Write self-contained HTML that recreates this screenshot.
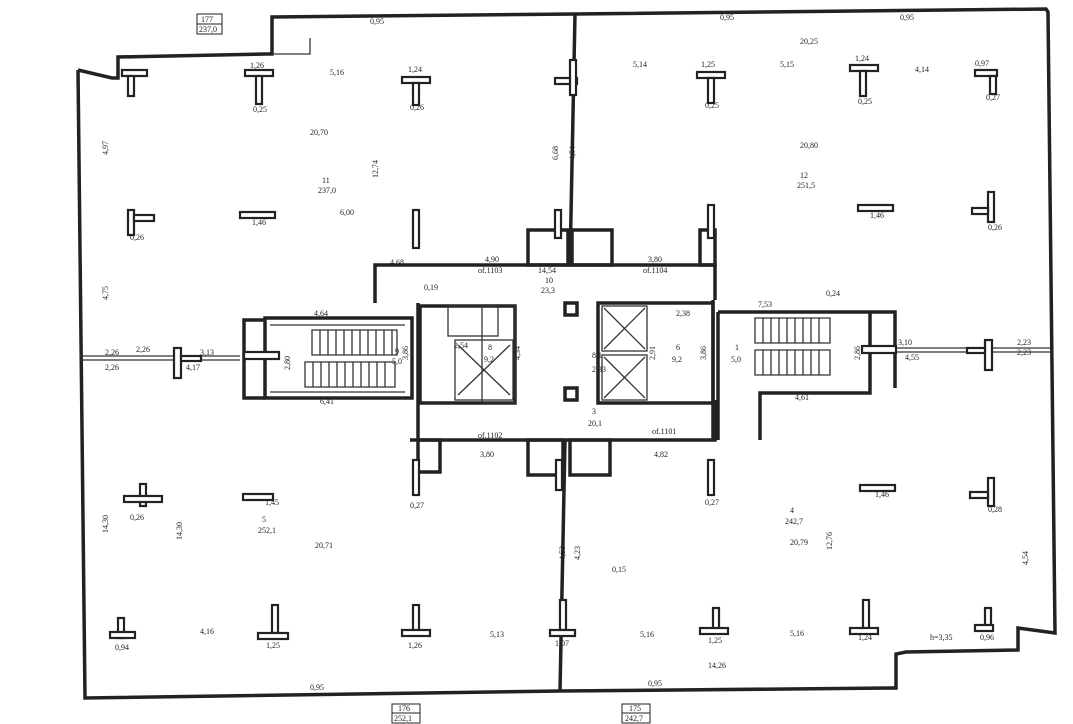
<!DOCTYPE html>
<html><head><meta charset="utf-8"><style>
html,body{margin:0;padding:0;background:#fff}
svg{display:block}
text{font-family:"Liberation Serif",serif;font-size:8px;fill:#222}
.w{stroke:#222;stroke-width:3.5;fill:none}
.t{stroke:#333;stroke-width:1.3;fill:none}
.c{stroke:#222;stroke-width:2.2;fill:#fff}
</style></head><body>
<svg width="1073" height="724" viewBox="0 0 1073 724" xmlns="http://www.w3.org/2000/svg">
<rect width="1073" height="724" fill="#fff"/>
<polyline class="w" points="78,70 112,78 118,78 118,57 266,54 272,54 272,17 575,14 1046,9 1048,12 1055,633 1018,628 1018,650 906,652 896,654 896,688 560,691 85,698 78,70"/>
<polyline class="t" points="272,54 310,54 310,38"/>
<line class="w" x1="575" y1="14" x2="570" y2="265"/>
<line class="w" x1="565" y1="440" x2="560" y2="691"/>
<line class="t" x1="80" y1="356" x2="240" y2="356"/><line class="t" x1="80" y1="360" x2="240" y2="360"/>
<line class="t" x1="895" y1="348" x2="1050" y2="348"/><line class="t" x1="895" y1="352" x2="1050" y2="352"/>
<polyline class="w" points="375,303 375,265 715,265 715,300"/>
<polyline class="w" points="410,440 715,440 715,400"/>
<line class="w" x1="418" y1="303" x2="418" y2="440"/>
<line class="w" x1="713" y1="300" x2="713" y2="440"/>
<rect class="w" x="528" y="230" width="40" height="35"/><rect class="w" x="572" y="230" width="40" height="35"/>
<rect class="w" x="700" y="230" width="15" height="35"/>
<rect class="w" x="418" y="440" width="22" height="32"/>
<rect class="w" x="528" y="440" width="35" height="35"/><rect class="w" x="570" y="440" width="40" height="35"/>
<rect class="w" x="265" y="318" width="147" height="80"/>
<polyline class="w" points="265,320 244,320 244,398 265,398"/>
<line class="t" x1="270" y1="325" x2="405" y2="325"/><line class="t" x1="270" y1="392" x2="405" y2="392"/>
<rect class="c" x="244" y="352" width="35" height="7"/>
<g class="t">
<path d="M312,330 h85 v25 h-85 z M305,362 h90 v25 h-90 z"/>
<path d="M320,330v25M328,330v25M336,330v25M344,330v25M352,330v25M360,330v25M368,330v25M376,330v25M384,330v25M392,330v25"/>
<path d="M313,362v25M321,362v25M329,362v25M337,362v25M345,362v25M353,362v25M361,362v25M369,362v25M377,362v25M385,362v25"/>
</g>
<rect class="w" x="420" y="306" width="95" height="97"/>
<rect class="t" x="482" y="305" width="33" height="98"/>
<rect class="t" x="448" y="306" width="50" height="30"/>
<rect class="t" x="455" y="340" width="58" height="60"/><path class="t" d="M458,345 L510,395 M510,345 L458,395"/>
<rect class="w" x="598" y="303" width="115" height="100"/>
<rect class="t" x="602" y="306" width="45" height="45"/><path class="t" d="M604,308 L645,349 M645,308 L604,349"/>
<rect class="t" x="602" y="355" width="45" height="45"/><path class="t" d="M604,357 L645,398 M645,357 L604,398"/>
<rect class="w" x="565" y="303" width="12" height="12"/><rect class="w" x="565" y="388" width="12" height="12"/>
<polyline class="w" points="718,312 895,312 895,388"/>
<polyline class="w" points="718,312 718,440"/>
<polyline class="w" points="870,312 870,393 760,393 760,440"/>
<rect class="c" x="862" y="346" width="34" height="7"/>
<g class="t">
<path d="M755,318 h75 v25 h-75 z M755,350 h75 v25 h-75 z"/>
<path d="M763,318v25M771,318v25M779,318v25M787,318v25M795,318v25M803,318v25M811,318v25M819,318v25"/>
<path d="M763,350v25M771,350v25M779,350v25M787,350v25M795,350v25M803,350v25M811,350v25M819,350v25"/>
</g>
<g class="c">
<rect x="122" y="70" width="25" height="6"/><rect x="128" y="76" width="6" height="20"/>
<rect x="245" y="70" width="28" height="6"/><rect x="256" y="76" width="6" height="28"/>
<rect x="402" y="77" width="28" height="6"/><rect x="413" y="83" width="6" height="22"/>
<rect x="555" y="78" width="22" height="6"/><rect x="570" y="60" width="6" height="35"/>
<rect x="697" y="72" width="28" height="6"/><rect x="708" y="78" width="6" height="25"/>
<rect x="850" y="65" width="28" height="6"/><rect x="860" y="71" width="6" height="25"/>
<rect x="975" y="70" width="22" height="6"/><rect x="990" y="76" width="6" height="18"/>
<rect x="128" y="210" width="6" height="25"/><rect x="134" y="215" width="20" height="6"/>
<rect x="240" y="212" width="35" height="6"/>
<rect x="413" y="210" width="6" height="38"/>
<rect x="555" y="210" width="6" height="28"/>
<rect x="708" y="205" width="6" height="33"/>
<rect x="858" y="205" width="35" height="6"/>
<rect x="988" y="192" width="6" height="30"/><rect x="972" y="208" width="16" height="6"/>
<rect x="174" y="348" width="7" height="30"/><rect x="181" y="356" width="20" height="5"/>
<rect x="985" y="340" width="7" height="30"/><rect x="967" y="348" width="18" height="5"/>
<rect x="413" y="460" width="6" height="35"/>
<rect x="556" y="460" width="6" height="30"/>
<rect x="708" y="460" width="6" height="35"/>
<rect x="140" y="484" width="6" height="22"/><rect x="124" y="496" width="38" height="6"/>
<rect x="243" y="494" width="30" height="6"/>
<rect x="860" y="485" width="35" height="6"/>
<rect x="988" y="478" width="6" height="28"/><rect x="970" y="492" width="18" height="6"/>
<rect x="118" y="618" width="6" height="20"/><rect x="110" y="632" width="25" height="6"/>
<rect x="272" y="605" width="6" height="28"/><rect x="258" y="633" width="30" height="6"/>
<rect x="413" y="605" width="6" height="25"/><rect x="402" y="630" width="28" height="6"/>
<rect x="560" y="600" width="6" height="30"/><rect x="550" y="630" width="25" height="6"/>
<rect x="713" y="608" width="6" height="25"/><rect x="700" y="628" width="28" height="6"/>
<rect x="863" y="600" width="6" height="28"/><rect x="850" y="628" width="28" height="6"/>
<rect x="985" y="608" width="6" height="22"/><rect x="975" y="625" width="18" height="6"/>
</g>
<rect x="197" y="14" width="25" height="10" fill="none" stroke="#222"/><rect x="197" y="24" width="25" height="10" fill="none" stroke="#222"/>
<text x="201" y="22">177</text><text x="199" y="32">237,0</text>
<rect x="392" y="704" width="28" height="9" fill="none" stroke="#222"/><rect x="392" y="713" width="28" height="10" fill="none" stroke="#222"/>
<text x="398" y="711">176</text><text x="394" y="721">252,1</text>
<rect x="622" y="704" width="28" height="9" fill="none" stroke="#222"/><rect x="622" y="713" width="28" height="10" fill="none" stroke="#222"/>
<text x="629" y="711">175</text><text x="625" y="721">242,7</text>
<text x="330" y="75">5,16</text><text x="633" y="67">5,14</text><text x="780" y="67">5,15</text><text x="800" y="44">20,25</text>
<text x="915" y="72">4,14</text><text x="310" y="135">20,70</text><text x="800" y="148">20,80</text>
<text x="322" y="183">11</text><text x="318" y="193">237,0</text><text x="800" y="178">12</text><text x="797" y="188">251,5</text>
<text x="340" y="215">6,00</text><text x="252" y="225">1,46</text><text x="870" y="218">1,46</text>
<text x="250" y="68">1,26</text><text x="408" y="72">1,24</text><text x="701" y="67">1,25</text><text x="855" y="61">1,24</text><text x="975" y="66">0,97</text>
<text x="253" y="112">0,25</text><text x="410" y="110">0,26</text><text x="705" y="108">0,25</text><text x="858" y="104">0,25</text><text x="986" y="100">0,27</text>
<text x="130" y="240">0,26</text><text x="988" y="230">0,26</text><text x="410" y="508">0,27</text><text x="705" y="505">0,27</text><text x="988" y="512">0,28</text>
<text x="130" y="520">0,26</text><text x="115" y="650">0,94</text><text x="266" y="648">1,25</text><text x="408" y="648">1,26</text><text x="555" y="646">1,07</text>
<text x="708" y="643">1,25</text><text x="858" y="640">1,24</text><text x="980" y="640">0,96</text>
<text x="485" y="262">4,90</text><text x="478" y="273">of.1103</text><text x="538" y="273">14,54</text>
<text x="545" y="283">10</text><text x="541" y="293">23,3</text><text x="648" y="262">3,80</text><text x="643" y="273">of.1104</text>
<text x="390" y="265">4,68</text><text x="424" y="290">0,19</text><text x="454" y="348">2,54</text><text x="592" y="372">2,33</text><text x="676" y="316">2,38</text>
<text x="314" y="316">4,64</text><text x="395" y="354">9</text><text x="392" y="364">5,0</text>
<text x="488" y="350">8</text><text x="484" y="362">9,2</text><text x="596" y="347">7</text><text x="592" y="358">8,1</text>
<text x="676" y="350">6</text><text x="672" y="362">9,2</text><text x="735" y="350">1</text><text x="731" y="362">5,0</text>
<text x="758" y="307">7,53</text><text x="826" y="296">0,24</text><text x="320" y="404">6,41</text><text x="795" y="400">4,61</text>
<text x="136" y="352">2,26</text><text x="105" y="355">2,26</text><text x="105" y="370">2,26</text><text x="200" y="355">3,13</text><text x="186" y="370">4,17</text>
<text x="898" y="345">3,10</text><text x="905" y="360">4,55</text><text x="1017" y="345">2,23</text><text x="1017" y="355">2,23</text>
<text x="592" y="414">3</text><text x="588" y="426">20,1</text><text x="478" y="438">of.1102</text><text x="652" y="434">of.1101</text>
<text x="480" y="457">3,80</text><text x="654" y="457">4,82</text>
<text x="265" y="505">1,45</text><text x="875" y="497">1,46</text>
<text x="262" y="522">5</text><text x="258" y="533">252,1</text><text x="315" y="548">20,71</text>
<text x="790" y="513">4</text><text x="785" y="524">242,7</text><text x="790" y="545">20,79</text>
<text x="612" y="572">0,15</text><text x="200" y="634">4,16</text><text x="490" y="637">5,13</text><text x="640" y="637">5,16</text><text x="790" y="636">5,16</text>
<text x="708" y="668">14,26</text><text x="930" y="640">h=3,35</text>
<text x="310" y="690">0,95</text><text x="648" y="686">0,95</text><text x="370" y="24">0,95</text><text x="720" y="20">0,95</text><text x="900" y="20">0,95</text>
<text transform="translate(108,155) rotate(-90)">4,97</text><text transform="translate(108,300) rotate(-90)">4,75</text>
<text transform="translate(108,533) rotate(-90)">14,30</text><text transform="translate(378,178) rotate(-90)">12,74</text>
<text transform="translate(182,540) rotate(-90)">14,30</text><text transform="translate(832,550) rotate(-90)">12,76</text>
<text transform="translate(1028,565) rotate(-90)">4,54</text><text transform="translate(558,160) rotate(-90)">6,68</text>
<text transform="translate(575,160) rotate(-90)">4,54</text><text transform="translate(565,560) rotate(-90)">4,53</text>
<text transform="translate(580,560) rotate(-90)">4,23</text>
<text transform="translate(408,360) rotate(-90)">3,86</text><text transform="translate(520,360) rotate(-90)">4,34</text>
<text transform="translate(655,360) rotate(-90)">2,91</text><text transform="translate(706,360) rotate(-90)">3,86</text>
<text transform="translate(290,370) rotate(-90)">2,80</text><text transform="translate(860,360) rotate(-90)">2,86</text>
</svg>
</body></html>
